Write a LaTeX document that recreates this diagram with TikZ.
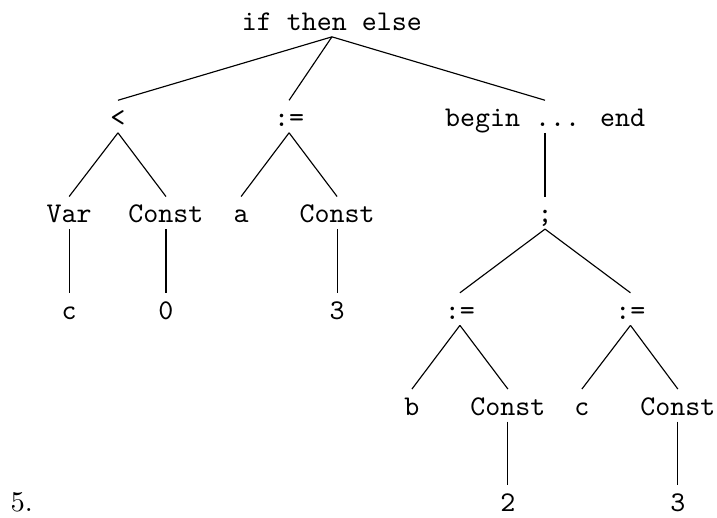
\documentclass[tikz,border=0pt]{standalone}
\usepackage{amsmath}
\usepackage{tikz}
\usepackage{amssymb}

\begin{document}
\begin{tikzpicture}[ast/.style={font=\ttfamily, anchor=base, text height=7pt, text depth=0pt, inner ysep=2pt}]
  \useasboundingbox (0pt, 0pt) rectangle (251pt, -181.3pt);
  \draw (116.2pt, -10.7pt)node[ast](0){if then else};
  \draw (41.3pt, -44.3pt)node[ast](1){<};
  \draw (101.2pt, -44.3pt)node[ast](2){:=};
  \draw (190.8pt, -44.3pt)node[ast](3){begin ... end};
  \draw (24.2pt, -78.0pt)node[ast](4){Var};
  \draw (58.1pt, -78.0pt)node[ast](5){Const};
  \draw (84.4pt, -78.0pt)node[ast](6){a};
  \draw (118.0pt, -78.0pt)node[ast](7){Const};
  \draw (190.8pt, -78.0pt)node[ast](8){;};
  \draw (24.2pt, -111.7pt)node[ast](9){c};
  \draw (58.1pt, -111.7pt)node[ast](10){0};
  \draw (118.0pt, -111.7pt)node[ast](11){3};
  \draw (161.0pt, -111.7pt)node[ast](12){:=};
  \draw (220.7pt, -111.7pt)node[ast](13){:=};
  \draw (144.2pt, -145.4pt)node[ast](14){b};
  \draw (177.8pt, -145.4pt)node[ast](15){Const};
  \draw (203.7pt, -145.4pt)node[ast](16){c};
  \draw (237.3pt, -145.4pt)node[ast](17){Const};
  \draw (177.8pt, -179.0pt)node[ast](18){2};
  \draw (237.3pt, -179.0pt)node[ast](19){3};
  \draw (3.5pt, -179.0pt)node[anchor=base west, inner sep=0pt](20){5.};
  \path (0.south) edge (1.north);
  \path (0.south) edge (2.north);
  \path (0.south) edge (3.north);
  \path (1.south) edge (4.north);
  \path (1.south) edge (5.north);
  \path (2.south) edge (6.north);
  \path (2.south) edge (7.north);
  \path (3.south) edge (8.north);
  \path (4.south) edge (9.north);
  \path (5.south) edge (10.north);
  \path (7.south) edge (11.north);
  \path (8.south) edge (12.north);
  \path (8.south) edge (13.north);
  \path (12.south) edge (14.north);
  \path (12.south) edge (15.north);
  \path (13.south) edge (16.north);
  \path (13.south) edge (17.north);
  \path (15.south) edge (18.north);
  \path (17.south) edge (19.north);
\end{tikzpicture}
\end{document}
